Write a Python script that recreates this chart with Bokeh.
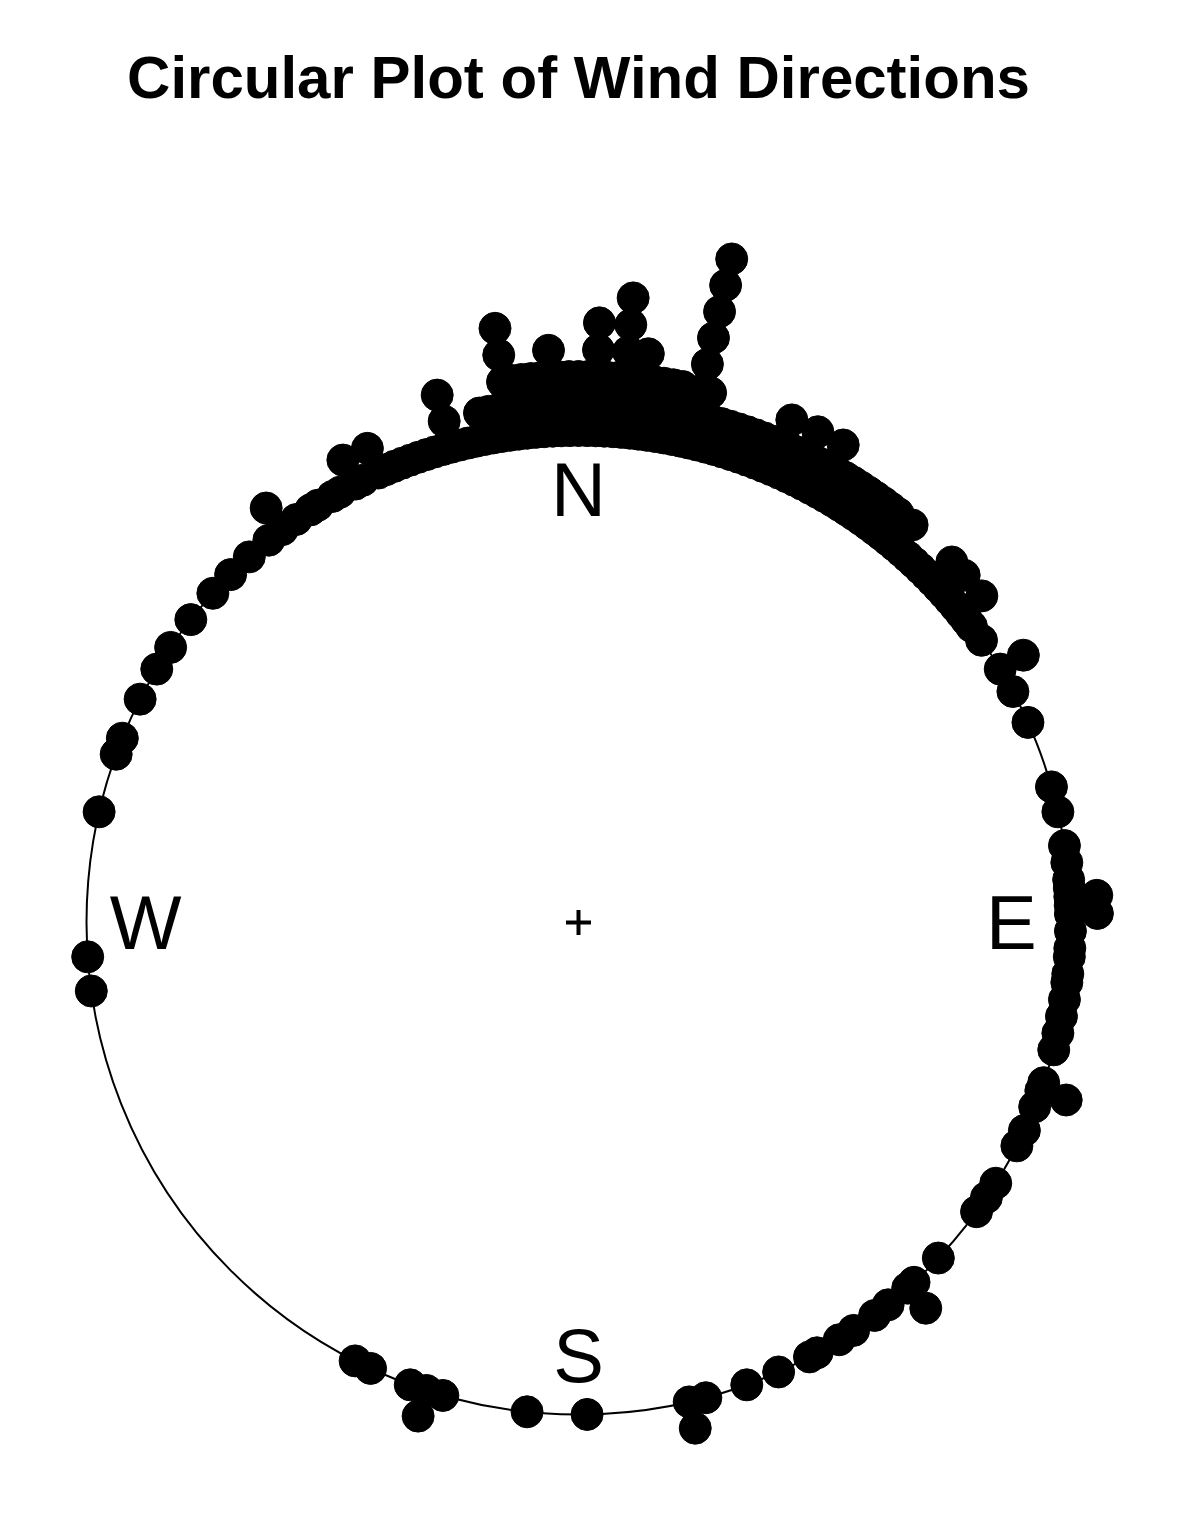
import numpy as np
from bokeh.plotting import figure
from bokeh.models import Range1d
from bokeh.core.properties import value
from bokeh.embed import file_html
from bokeh.resources import INLINE

# ---------------- data ----------------
title_text = "Circular Plot of Wind Directions"
compass_labels = ["N", "E", "S", "W"]
compass_deg = [0, 90, 180, 270]

# wind direction bins (degrees clockwise from North) and number of observations per bin
bin_deg = [262, 266, 283, 290, 292, 297, 301, 304, 308, 312, 315, 318, 321, 323, 325,
           327, 328, 330, 331, 333, 334, 336, 337, 338, 339, 340, 341, 342, 343, 344,
           345, 346, 347, 348, 349, 350, 351, 352, 353, 354, 355, 356, 357, 358, 359,
           0, 1, 2, 3, 4, 5, 6, 7, 8, 9, 10, 11, 12, 13, 14, 15, 16, 17, 18, 19, 20,
           21, 22, 23, 24, 25, 26, 27, 28, 29, 30, 31, 32, 33, 34, 35, 36, 37, 38, 39,
           40, 41, 42, 43, 44, 45, 46, 47, 48, 49, 50, 51, 52, 53, 55, 59, 62, 66, 74,
           77, 81, 83, 85, 86, 87, 88, 89, 91, 93, 94, 96, 97, 99, 101, 103, 105, 109,
           110, 112, 115, 117, 122, 124, 126, 133, 137, 138, 141, 143, 146, 148, 151,
           152, 156, 160, 165, 167, 179, 186, 196, 198, 200, 205, 207]
bin_count = [1, 1, 1, 1, 1, 1, 1, 1, 1, 1, 1, 1, 1, 2, 1,
             1, 1, 1, 1, 2, 1, 2, 1, 1, 1, 1, 1, 1, 1, 1,
             3, 1, 1, 1, 2, 2, 2, 5, 3, 3, 3, 3, 4, 3, 3,
             3, 3, 5, 3, 3, 6, 3, 4, 3, 3, 3, 3, 2, 8, 3, 2, 2, 2, 2, 2, 2,
             2, 2, 3, 2, 2, 3, 2, 2, 3, 2, 2, 2, 2, 2, 2, 2, 2, 2, 1,
             2, 1, 1, 1, 1, 1, 2, 1, 2, 1, 1, 2, 1, 1, 1, 2, 1, 1, 1,
             1, 1, 1, 1, 1, 2, 1, 2, 1, 1, 1, 1, 1, 1, 1, 1, 1, 1,
             2, 1, 1, 1, 1, 1, 1, 1, 1, 2, 1, 1, 1, 1, 1,
             1, 1, 1, 1, 2, 1, 1, 1, 2, 1, 1, 1]

# ---------------- layout ----------------
W, H = 1162, 1496
PX = 492.0             # pixels per unit radius
CX, CY = 578.0, 922.0  # circle centre inside the figure, px from left / top
STEP = 27.0 / PX       # radial separation of stacked points
LABEL_R = 0.88
TITLE_Y_PX = 77.0      # vertical centre of the title, px from top

p = figure(width=W, height=H,
           x_range=Range1d(-CX / PX, (W - CX) / PX),
           y_range=Range1d(-(H - CY) / PX, CY / PX),
           output_backend="svg", toolbar_location=None,
           x_axis_type=None, y_axis_type=None, min_border=0)
p.grid.visible = False
p.outline_line_color = None
p.background_fill_color = "white"
p.border_fill_color = "white"

# unit circle
p.circle(x=[0], y=[0], radius=1, fill_color=None, line_color="black", line_width=2)

# stacked points
xs, ys = [], []
for d, n in zip(bin_deg, bin_count):
    t = np.deg2rad(d)
    for k in range(n):
        r = 1.0 + k * STEP
        xs.append(r * np.sin(t))
        ys.append(r * np.cos(t))
p.scatter(xs, ys, size=32, fill_color="black", line_color="black")

# centre cross
p.scatter([0], [0], marker="cross", size=25, line_color="black", line_width=4)

# compass labels
lx = [LABEL_R * np.sin(np.deg2rad(a)) for a in compass_deg]
ly = [LABEL_R * np.cos(np.deg2rad(a)) for a in compass_deg]
p.text(lx, ly, text=compass_labels, text_align="center", text_baseline="alphabetic",
       text_font=value("Liberation Sans"), text_font_size="76px", text_color="black")

# title
p.text([0.0], [(CY - TITLE_Y_PX) / PX], text=[title_text], text_align="center",
       text_baseline="alphabetic", text_font=value("Liberation Sans"),
       text_font_size="60px", text_font_style="bold", text_color="black")

open("out.html", "w").write(file_html(p, INLINE))
